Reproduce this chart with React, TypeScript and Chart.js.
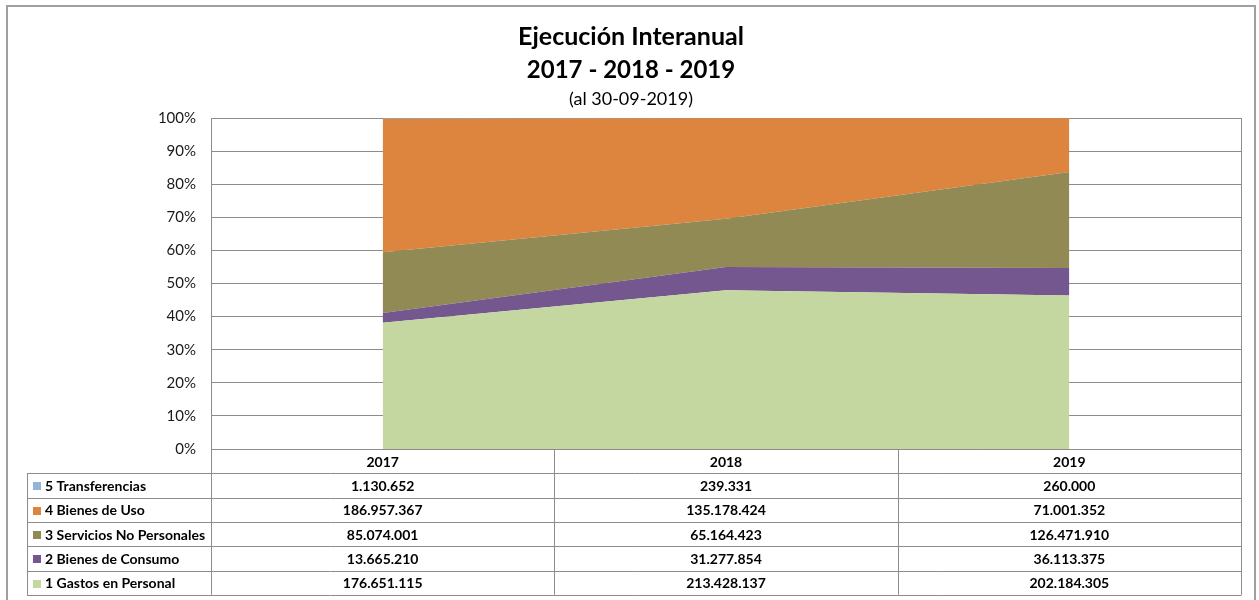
import React, { useEffect, useRef } from "react";
import { Chart, registerables } from "chart.js";

Chart.register(...registerables);

const categories = ["2017", "2018", "2019"];
const transferencias = [1130652, 239331, 260000];
const bienesDeUso = [186957367, 135178424, 71001352];
const serviciosNoPersonales = [85074001, 65164423, 126471910];
const bienesDeConsumo = [13665210, 31277854, 36113375];
const gastosEnPersonal = [176651115, 213428137, 202184305];

// bottom -> top stacking order
const seriesLabels = [
  "1 Gastos en Personal",
  "2 Bienes de Consumo",
  "3 Servicios No Personales",
  "4 Bienes de Uso",
  "5 Transferencias",
];
const seriesValues = [gastosEnPersonal, bienesDeConsumo, serviciosNoPersonales, bienesDeUso, transferencias];
const seriesColors = ["#C4D7A0", "#74578E", "#918A55", "#DD843E", "#95B3D7"];

const titleLines = ["Ejecución Interanual", "2017 - 2018 - 2019"];
const subtitle = "(al 30-09-2019)";

const FONT = "Lato, 'Open Sans', sans-serif";
const GRID = "#8c8c8c";

function fmt(n: number): string {
  return String(n).replace(/\B(?=(\d{3})+(?!\d))/g, ".");
}

const totals = categories.map((_, i) => seriesValues.reduce((s, arr) => s + arr[i], 0));
const percentData = seriesValues.map((arr) => arr.map((v, i) => (v / totals[i]) * 100));

const decorPlugin = {
  id: "decor",
  afterDraw(chart: any) {
    const ctx = chart.ctx as CanvasRenderingContext2D;
    const { left, right, top, bottom } = chart.chartArea;
    const xs = chart.scales.x;
    const n = categories.length;
    const band = (right - left) / n;
    ctx.save();

    // outer frame
    ctx.strokeStyle = "#a0a0a0";
    ctx.lineWidth = 2;
    ctx.strokeRect(7, 6, 1248, 600);

    // title
    ctx.fillStyle = "#000";
    ctx.textAlign = "center";
    ctx.textBaseline = "middle";
    ctx.font = `bold 25px ${FONT}`;
    ctx.fillText(titleLines[0], 631, 37);
    ctx.font = `bold 24px ${FONT}`;
    ctx.fillText(titleLines[1], 631, 70);
    ctx.font = `18px ${FONT}`;
    ctx.fillText(subtitle, 631, 99);

    // table
    const tableLeft = 27;
    const rows = seriesLabels.length;
    const rowH = 24.3;
    const tBottom = bottom + rowH * (rows + 1);
    ctx.strokeStyle = GRID;
    ctx.lineWidth = 1;
    const hline = (x1: number, x2: number, y: number) => {
      const yy = Math.round(y) + 0.5;
      ctx.beginPath();
      ctx.moveTo(x1, yy);
      ctx.lineTo(x2, yy);
      ctx.stroke();
    };
    const vline = (x: number, y1: number, y2: number) => {
      const xx = Math.round(x) + 0.5;
      ctx.beginPath();
      ctx.moveTo(xx, y1);
      ctx.lineTo(xx, y2);
      ctx.stroke();
    };
    vline(right, top, tBottom);
    vline(left, bottom, tBottom);
    for (let i = 1; i < n; i++) vline(left + band * i, bottom, tBottom);
    vline(tableLeft, bottom + rowH, tBottom);
    for (let r = 1; r <= rows + 1; r++) hline(tableLeft, right + 0.5, bottom + rowH * r);
    hline(left, right, bottom);

    // header
    ctx.fillStyle = "#000";
    ctx.font = `bold 14px ${FONT}`;
    ctx.textAlign = "center";
    categories.forEach((c, i) => {
      ctx.fillText(c, xs.getPixelForValue(i), bottom + rowH / 2 + 1);
    });
    // rows: top = series 5 ... bottom = series 1
    for (let r = 0; r < rows; r++) {
      const si = rows - 1 - r;
      const cy = bottom + rowH * (r + 1) + rowH / 2 + 1;
      ctx.fillStyle = seriesColors[si];
      ctx.fillRect(33, Math.round(cy - 4), 8, 8);
      ctx.fillStyle = "#000";
      ctx.textAlign = "left";
      ctx.fillText(seriesLabels[si], 45, cy);
      ctx.textAlign = "center";
      seriesValues[si].forEach((v, i) => {
        ctx.fillText(fmt(v), xs.getPixelForValue(i), cy);
      });
    }
    ctx.restore();
  },
};

export default function App() {
  const ref = useRef<HTMLCanvasElement | null>(null);
  useEffect(() => {
    if (!ref.current) return;
    const chart = new Chart(ref.current, {
      type: "line",
      data: {
        labels: categories,
        datasets: seriesLabels.map((label, i) => ({
          label,
          data: percentData[i],
          backgroundColor: seriesColors[i],
          borderColor: seriesColors[i],
          borderWidth: 0,
          pointRadius: 0,
          fill: i === 0 ? "origin" : "-1",
          tension: 0,
        })),
      },
      options: {
        responsive: false,
        animation: false,
        devicePixelRatio: 1,
        layout: { padding: { top: 118, right: 18, bottom: 0, left: 0 } },
        plugins: {
          legend: { display: false },
          title: { display: false },
          tooltip: { enabled: false },
        },
        scales: {
          x: {
            type: "category",
            offset: true,
            grid: { display: false, drawTicks: false },
            border: { display: false },
            ticks: { display: false },
            afterFit: (s: any) => {
              s.height = 151;
            },
          },
          y: {
            stacked: true,
            min: 0,
            max: 100,
            ticks: {
              stepSize: 10,
              padding: 15,
              color: "#1a1a1a",
              font: { family: FONT, size: 15 },
              callback: (v: any) => `${v}%`,
            },
            grid: { color: GRID, lineWidth: 1, drawTicks: false },
            border: { display: true, color: GRID, width: 1 },
            afterFit: (s: any) => {
              s.width = 211;
            },
          },
        },
      },
      plugins: [decorPlugin],
    });
    return () => chart.destroy();
  }, []);
  return (
    <div style={{ position: "fixed", left: 0, top: 0, width: 1259, height: 600, background: "#fff" }}>
      <canvas ref={ref} width={1259} height={600} style={{ display: "block" }} />
    </div>
  );
}
